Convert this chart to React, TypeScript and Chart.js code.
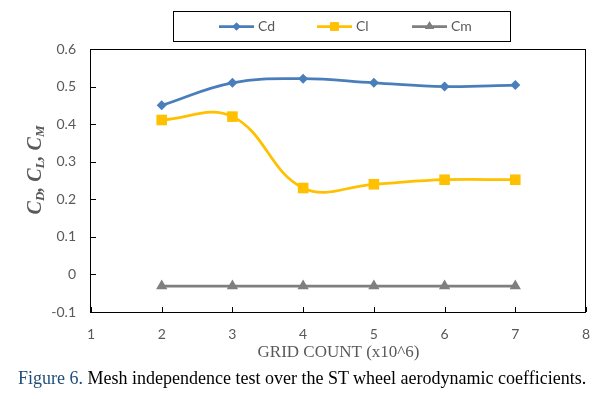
import React, { useEffect, useRef } from "react";
import { Chart, registerables } from "chart.js";
import { drawPoint } from "chart.js/helpers";

Chart.register(...registerables);

const gridCounts = [2, 3, 4, 5, 6, 7];
const cdValues = [0.45, 0.51, 0.521, 0.51, 0.5, 0.504];
const clValues = [0.411, 0.42, 0.23, 0.24, 0.252, 0.252];
const cmValues = [-0.031, -0.031, -0.031, -0.031, -0.031, -0.031];
const xTicks = [1, 2, 3, 4, 5, 6, 7, 8];
const yTicks = [-0.1, 0, 0.1, 0.2, 0.3, 0.4, 0.5, 0.6];
const seriesNames = ["Cd", "Cl", "Cm"];
const xTitle = "GRID COUNT (x10^6)";
const captionLabel = "Figure 6.";
const captionText = " Mesh independence test over the ST wheel aerodynamic coefficients.";

const COLORS = ["#4A7EBB", "#FFC000", "#7F7F7F"];
const STYLES = ["rectRot", "rect", "triangle"];
const RADII = [5, 7.5, 6.5];
const TICK_COLOR = "#595959";
const SANS = "Lato, 'Open Sans', sans-serif";
const SERIF = "'Liberation Serif', 'Times New Roman', serif";

const decorPlugin = {
  id: "decor",
  afterDraw(chart: any) {
    const ctx = chart.ctx;
    const a = chart.chartArea;
    const xs = chart.scales.x;
    const ys = chart.scales.y;
    ctx.save();
    // frame
    ctx.strokeStyle = "#000";
    ctx.lineWidth = 1;
    ctx.strokeRect(Math.round(a.left) - 0.5, Math.round(a.top) + 0.5, Math.round(a.right - a.left), Math.round(a.bottom - a.top));
    // inner ticks
    ctx.beginPath();
    yTicks.forEach((v) => {
      const py = Math.round(ys.getPixelForValue(v)) + 0.5;
      ctx.moveTo(a.left, py);
      ctx.lineTo(a.left + 5, py);
    });
    xTicks.forEach((v) => {
      const px = Math.round(xs.getPixelForValue(v)) + 0.5;
      ctx.moveTo(px, a.bottom);
      ctx.lineTo(px, a.bottom - 5);
    });
    ctx.stroke();

    // legend
    ctx.strokeStyle = "#000";
    ctx.strokeRect(173.5, 11.5, 337, 30);
    const starts = [219, 317, 412];
    const ly = 26.5;
    seriesNames.forEach((name, i) => {
      const x0 = starts[i];
      ctx.strokeStyle = COLORS[i];
      ctx.lineWidth = 2.75;
      ctx.beginPath();
      ctx.moveTo(x0, ly);
      ctx.lineTo(x0 + 35, ly);
      ctx.stroke();
      ctx.fillStyle = COLORS[i];
      drawPoint(ctx, { pointStyle: STYLES[i], radius: RADII[i] * 0.8, rotation: 0, borderWidth: 0 } as any, x0 + 17.5, ly);
      ctx.fill();
      ctx.fillStyle = TICK_COLOR;
      ctx.font = `14px ${SANS}`;
      ctx.textBaseline = "middle";
      ctx.textAlign = "left";
      ctx.fillText(name, x0 + 39, ly);
    });

    // x title
    ctx.fillStyle = "#595959";
    ctx.font = `17px ${SERIF}`;
    ctx.textAlign = "center";
    ctx.textBaseline = "middle";
    ctx.fillText(xTitle, (a.left + a.right) / 2, 353);

    // y title with subscripts
    const runs: [string, boolean][] = [
      ["C", false], ["D", true], [", ", false],
      ["C", false], ["L", true], [", ", false],
      ["C", false], ["M", true],
    ];
    const big = `italic bold 20px ${SERIF}`;
    const small = `italic bold 13px ${SERIF}`;
    let total = 0;
    runs.forEach(([t, sub]) => {
      ctx.font = sub ? small : big;
      total += ctx.measureText(t).width;
    });
    ctx.translate(34, 170);
    ctx.rotate(-Math.PI / 2);
    ctx.textAlign = "left";
    ctx.textBaseline = "alphabetic";
    let cx = -total / 2;
    runs.forEach(([t, sub]) => {
      ctx.font = sub ? small : big;
      ctx.fillText(t, cx, sub ? 10 : 7);
      cx += ctx.measureText(t).width;
    });
    ctx.restore();
  },
};

function App() {
  const ref = useRef<HTMLCanvasElement | null>(null);
  useEffect(() => {
    if (!ref.current) return;
    const mk = (vals: number[]) => gridCounts.map((x, i) => ({ x, y: vals[i] }));
    const series = [cdValues, clValues, cmValues];
    const chart = new Chart(ref.current, {
      type: "line",
      data: {
        datasets: series.map((vals, i) => ({
          label: seriesNames[i],
          data: mk(vals),
          borderColor: COLORS[i],
          backgroundColor: COLORS[i],
          borderWidth: 2.75,
          pointStyle: STYLES[i] as any,
          pointRadius: RADII[i],
          pointBorderWidth: 0,
          pointBackgroundColor: COLORS[i],
          tension: 0.4,
          fill: false,
        })),
      },
      plugins: [decorPlugin],
      options: {
        animation: false,
        responsive: false,
        devicePixelRatio: 1,
        layout: { padding: { top: 49, right: 20, left: 0, bottom: 0 } },
        plugins: { legend: { display: false }, tooltip: { enabled: false }, title: { display: false } },
        scales: {
          x: {
            type: "linear",
            min: 1,
            max: 8,
            afterFit: (s: any) => { s.height = 87; },
            afterBuildTicks: (s: any) => { s.ticks = xTicks.map((v) => ({ value: v })); },
            grid: { display: false, drawTicks: false },
            border: { display: false },
            ticks: { padding: 14, color: TICK_COLOR, font: { family: SANS, size: 14 }, callback: (v: any) => String(v) },
          },
          y: {
            type: "linear",
            min: -0.1,
            max: 0.6,
            afterFit: (s: any) => { s.width = 91; },
            afterBuildTicks: (s: any) => { s.ticks = yTicks.map((v) => ({ value: v })); },
            grid: { display: false, drawTicks: false },
            border: { display: false },
            ticks: {
              padding: 15,
              color: TICK_COLOR,
              font: { family: SANS, size: 14 },
              callback: (v: any) => String(Math.round(Number(v) * 10) / 10),
            },
          },
        },
      } as any,
    });
    return () => chart.destroy();
  }, []);

  return (
    <div style={{ position: "fixed", left: 0, top: 0, width: 606, height: 399, background: "#fff", overflow: "hidden" }}>
      <canvas ref={ref} width={606} height={399} style={{ position: "absolute", left: 0, top: 0, width: 606, height: 399 }} />
      <div
        style={{
          position: "absolute",
          left: 18,
          top: 367,
          fontFamily: SERIF,
          fontSize: 18,
          lineHeight: "22px",
          whiteSpace: "nowrap",
          color: "#000",
        }}
      >
        <span style={{ color: "#1F4E79" }}>{captionLabel}</span>
        {captionText}
      </div>
    </div>
  );
}

export default App;
